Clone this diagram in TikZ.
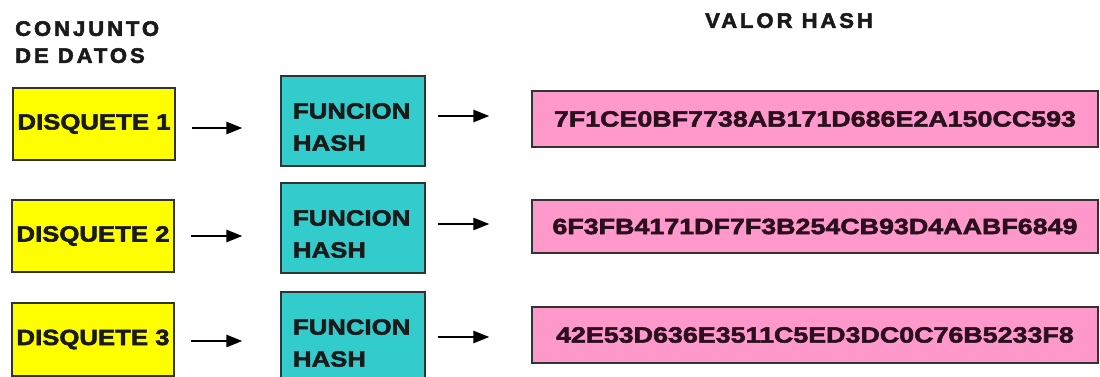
\documentclass[tikz,border=0pt]{standalone}
\usepackage{fontspec}
\usetikzlibrary{arrows.meta}
\setmainfont{Liberation Sans}
% wide heavy faces used in the boxes and the headings
\newfontfamily\boxfont[FakeStretch=1.17,FakeBold=2.5]{Liberation Sans Bold}
\newfontfamily\hashfont[FakeStretch=1.22,FakeBold=2.5]{Liberation Sans Bold}
\newfontfamily\headfont[FakeStretch=1.05,FakeBold=2.5,LetterSpace=14]{Liberation Sans Bold}
\definecolor{dataYellow}{HTML}{FFFF00}
\definecolor{funcCyan}{HTML}{33CCCC}
\definecolor{hashPink}{HTML}{FF99CC}
\definecolor{edgeGray}{HTML}{333333}
\definecolor{inkDark}{HTML}{1A1A1A}
\definecolor{inkPlum}{HTML}{2A0F1E}
% two left-aligned lines, set a little below the centre of their box
\newcommand{\twolines}[2]{\raisebox{-6pt}[\height][\depth]{\parbox[c]{120pt}{#1\\#2}}}
\tikzset{
  box/.style={draw=edgeGray, line width=1.2pt, inner sep=0pt, rectangle},
  datobox/.style={box, fill=dataYellow, minimum width=162pt, minimum height=72pt,
    text=inkDark, font=\boxfont\fontsize{22}{26}\selectfont},
  funcbox/.style={box, fill=funcCyan, minimum width=144pt, minimum height=90pt,
    text=inkDark, font=\boxfont\fontsize{22}{32}\selectfont},
  hashbox/.style={box, fill=hashPink, minimum width=566pt,
    text=inkPlum, font=\hashfont\fontsize{22}{26}\selectfont},
  heading/.style={inner sep=0pt, text=inkDark, align=left,
    font=\headfont\fontsize{21}{27}\selectfont},
  arr/.style={line width=2.6pt, -{Triangle[length=16pt,width=12pt]}},
  arrA/.style={arr, shorten <=16pt, shorten >=38pt},
  arrB/.style={arr, shorten <=12pt, shorten >=42pt}
}
\begin{document}
\begin{tikzpicture}[x=1pt, y=-1pt]
\useasboundingbox (0,0) rectangle (1100,377);
\clip (0,0) rectangle (1100,377);

% headings
\node[heading, anchor=north west] (hdatos) at (15,21) {CONJUNTO\\DE DATOS};
\node[heading, anchor=north west] (hvalor) at (705,13) {VALOR HASH};

% data sets
\node[datobox] (Y1) at (94,124) {DISQUETE 1};
\node[datobox] (Y2) at (93,236) {DISQUETE 2};
\node[datobox, minimum height=73pt] (Y3) at (93,339.5) {DISQUETE 3};

% hash functions
\node[funcbox] (C1) at (353,121) {\twolines{FUNCION}{HASH}};
\node[funcbox] (C2) at (353,228) {\twolines{FUNCION}{HASH}};
\node[funcbox] (C3) at (353,337) {\twolines{FUNCION}{HASH}};

% hash values
\node[hashbox, minimum height=56pt] (P1) at (815,119) {7F1CE0BF7738AB171D686E2A150CC593};
\node[hashbox, minimum height=53pt] (P2) at (815,226.5) {6F3FB4171DF7F3B254CB93D4AABF6849};
\node[hashbox, minimum height=56pt] (P3) at (815,335) {42E53D636E3511C5ED3DC0C76B5233F8};

% connectors
\draw[arrA] ([yshift=-4pt]Y1.east) -- ([yshift=-7pt]C1.west);
\draw[arrB] ([yshift=5pt]C1.east) -- ([yshift=3pt]P1.west);
\draw[arrA] (Y2.east) -- ([yshift=-8pt]C2.west);
\draw[arrB] ([yshift=4pt]C2.east) -- ([yshift=2.5pt]P2.west);
\draw[arrA] ([yshift=-1.5pt]Y3.east) -- ([yshift=-4pt]C3.west);
\draw[arrB] (C3.east) -- ([yshift=-2pt]P3.west);
\end{tikzpicture}
\end{document}
